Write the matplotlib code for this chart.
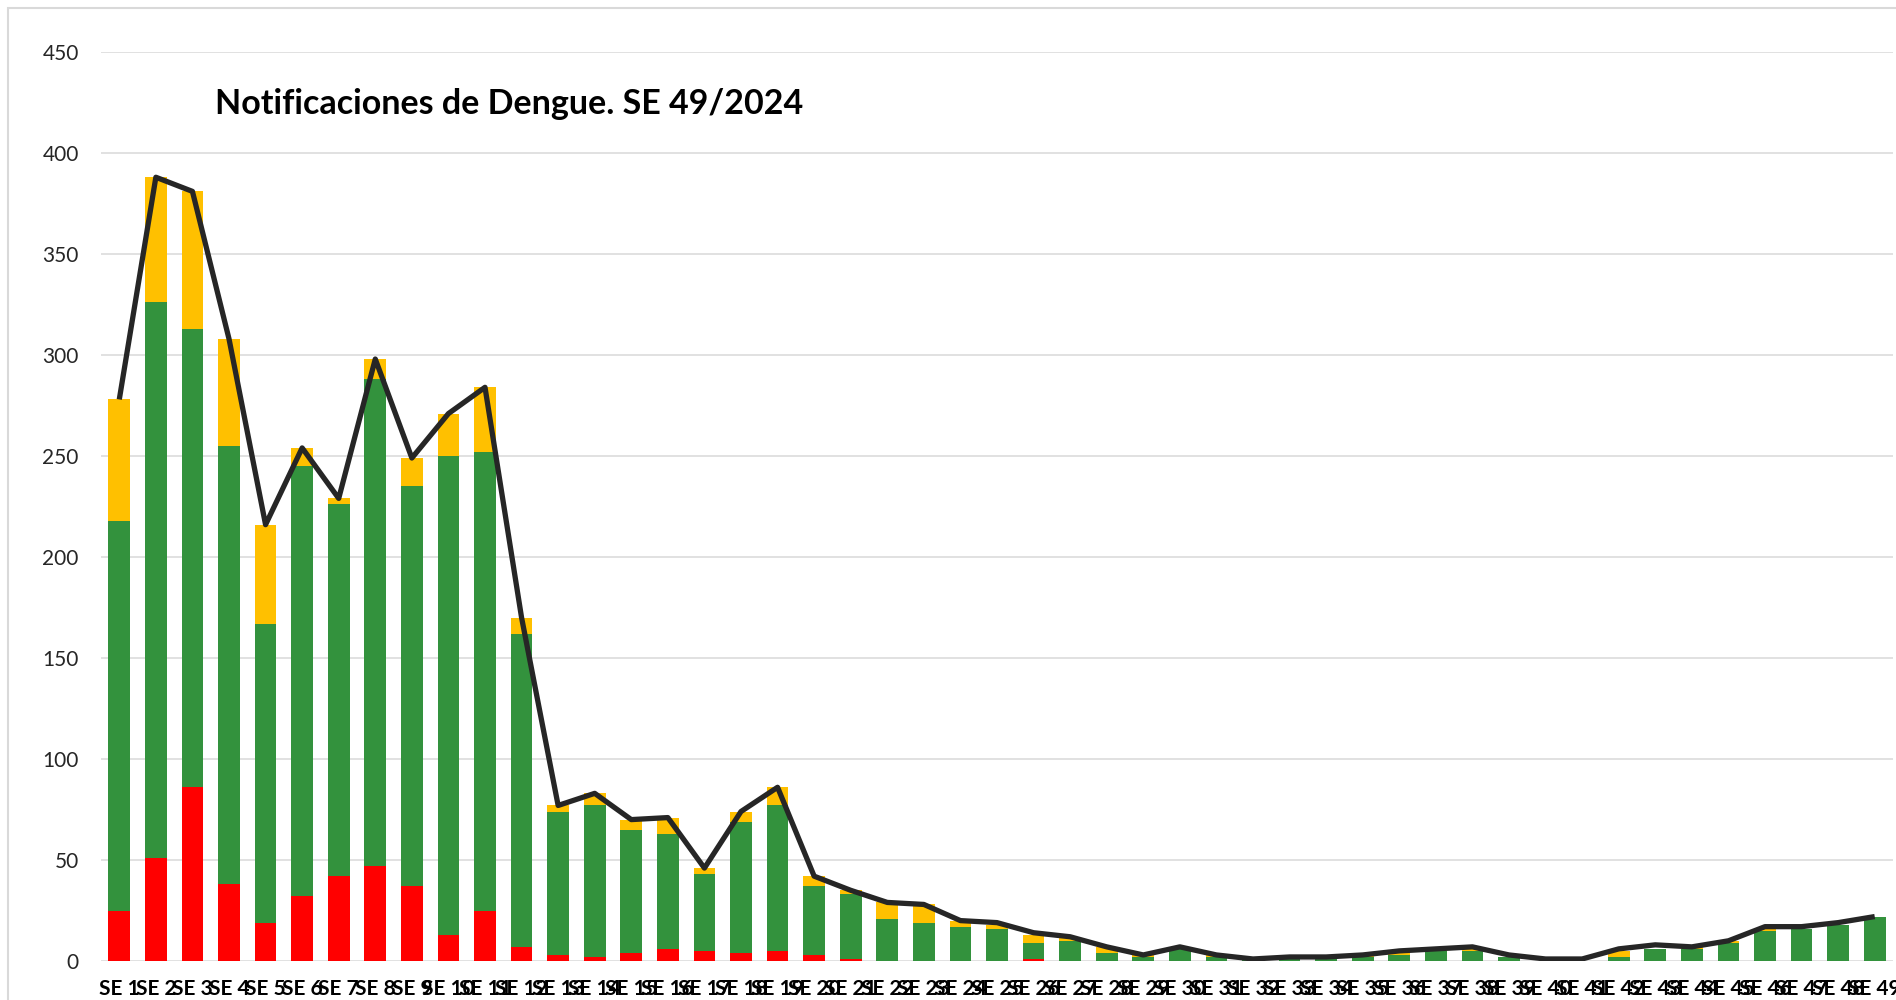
import matplotlib
matplotlib.use("Agg")
import matplotlib.pyplot as plt
from matplotlib.patches import Rectangle

plt.rcParams['font.family'] = ['Lato', 'DejaVu Sans']

semanas = [f"SE {i}" for i in range(1, 50)]

# casos por categoria (segmentos apilados)
rojo = [25, 51, 86, 38, 19, 32, 42, 47, 37, 13, 25, 7, 3, 2, 4, 6, 5, 4, 5, 3,
        1, 0, 0, 0, 0, 1, 0, 0, 0, 0, 0, 0, 0, 0, 0, 0, 0, 0, 0, 0,
        0, 0, 0, 0, 0, 0, 0, 0, 0]
verde = [193, 275, 227, 217, 148, 213, 184, 241, 198, 237, 227, 155, 71, 75, 61, 57, 38, 65, 72, 34,
         32, 21, 19, 17, 16, 8, 10, 4, 2, 6, 2, 1, 1, 2, 2, 3, 5, 5, 2, 0,
         0, 2, 6, 6, 9, 15, 16, 18, 22]
amarillo = [60, 62, 68, 53, 49, 9, 3, 10, 14, 21, 32, 8, 3, 6, 5, 8, 3, 5, 9, 5,
            2, 8, 9, 3, 2, 4, 2, 3, 1, 1, 1, 0, 1, 0, 1, 1, 1, 1, 0, 0,
            0, 3, 0, 1, 1, 1, 0, 0, 0]
total = [278, 388, 381, 308, 216, 254, 229, 298, 249, 271, 284, 170, 77, 83, 70, 71, 46, 74, 86, 42,
         35, 29, 28, 20, 19, 14, 12, 7, 3, 7, 3, 1, 2, 2, 3, 5, 6, 7, 3, 1,
         1, 6, 8, 7, 10, 17, 17, 19, 22]

titulo = "Notificaciones de Dengue. SE 49/2024"


def plot_chart():
    fig = plt.figure(figsize=(18.96, 10), dpi=100)
    ax = fig.add_axes([101 / 1896, 1 - 961 / 1000, 1792 / 1896, 909 / 1000])

    x = list(range(len(semanas)))
    base_am = [r + v for r, v in zip(rojo, verde)]
    ancho = 0.59
    ax.bar(x, rojo, width=ancho, color='#FF0000', zorder=2)
    ax.bar(x, verde, width=ancho, bottom=rojo, color='#33923D', zorder=2)
    ax.bar(x, amarillo, width=ancho, bottom=base_am, color='#FFC000', zorder=2)
    ax.plot(x, total, color='#262626', lw=3.8, solid_joinstyle='round',
            solid_capstyle='butt', zorder=3)

    ax.set_xlim(-0.5, len(semanas) - 0.5)
    ax.set_ylim(0, 450)
    ax.set_yticks(range(0, 451, 50))
    ax.set_xticks(x)
    ax.set_xticklabels(semanas, fontsize=15, fontweight='bold', color='black')
    ax.tick_params(axis='y', length=0, pad=16, labelsize=15, labelcolor='#262626')
    ax.tick_params(axis='x', length=0, pad=13)
    for s in ax.spines.values():
        s.set_visible(False)
    ax.grid(axis='y', color='#D9D9D9', lw=1.1, zorder=0)
    ax.set_axisbelow(True)

    fig.text(215 / 1896, 1 - 104 / 1000, titulo, fontsize=24.5, fontweight='bold',
             ha='left', va='center', color='black')

    borde = Rectangle((7.5 / 1896, -0.1), 1.2, 1.1 - 7.5 / 1000, transform=fig.transFigure,
                      fill=False, edgecolor='#D9D9D9', lw=1.5)
    fig.add_artist(borde)

    fig.savefig("out.png", dpi=100, facecolor='white')


def main():
    plot_chart()


if __name__ == "__main__":
    main()
